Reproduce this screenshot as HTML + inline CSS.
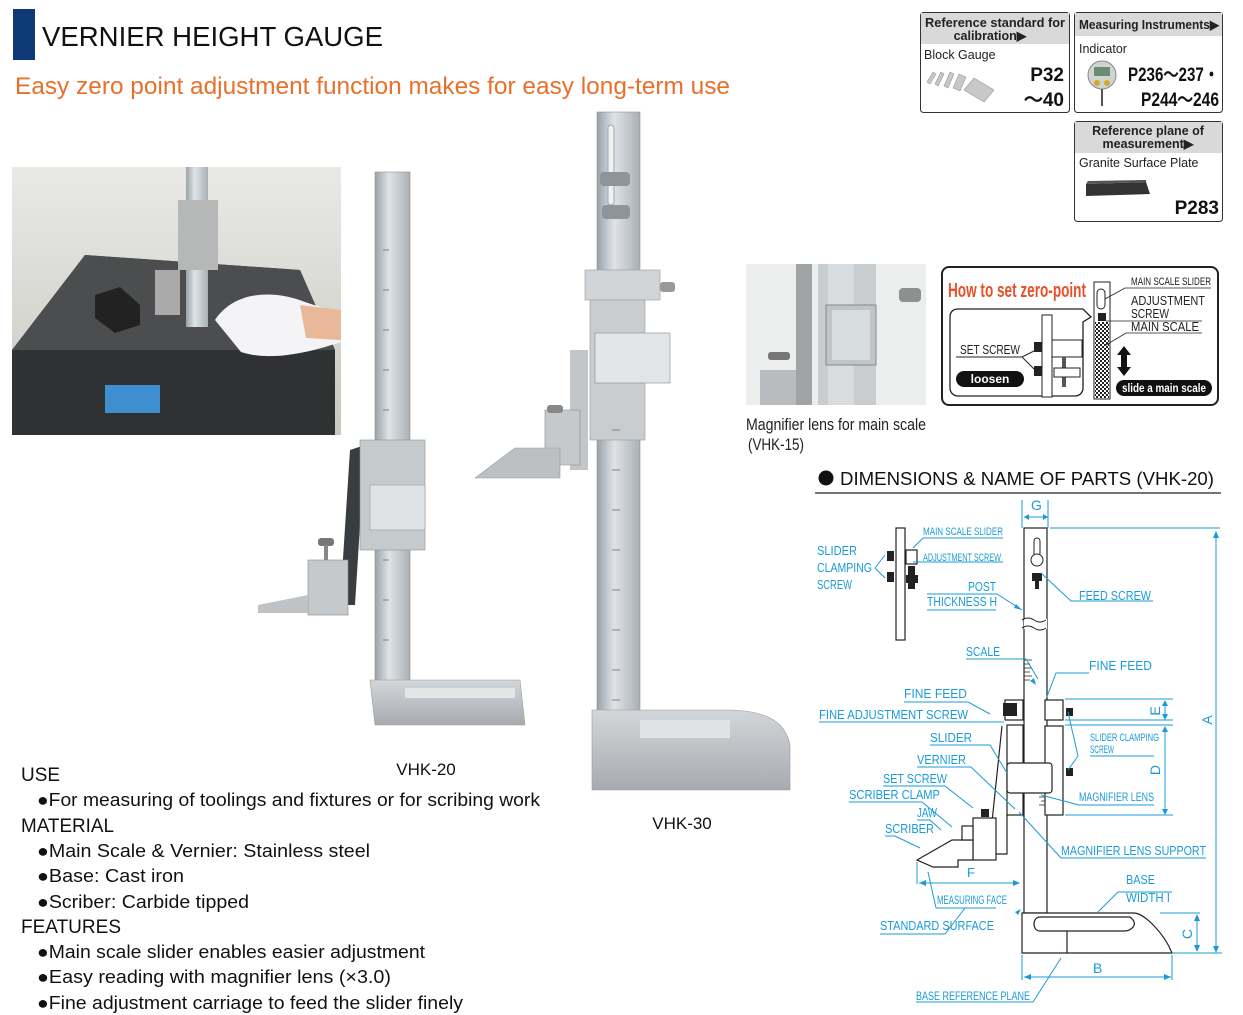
<!DOCTYPE html>
<html><head><meta charset="utf-8"><style>
html,body{margin:0;padding:0;background:#fff;width:1243px;height:1015px;overflow:hidden}
svg{display:block}
.b{fill:#1a9bd7;font-family:"Liberation Sans Narrow","Liberation Sans",sans-serif}
.ln{stroke:#1a9bd7;stroke-width:1;fill:none}
.t{font-family:"Liberation Sans",sans-serif;fill:#111}
</style></head><body>
<svg width="1243" height="1015" viewBox="0 0 1243 1015" xmlns="http://www.w3.org/2000/svg">
<defs>
<linearGradient id="metal" x1="0" x2="1"><stop offset="0" stop-color="#9aa2a8"/><stop offset=".4" stop-color="#dfe3e6"/><stop offset="1" stop-color="#a9b0b5"/></linearGradient>
<linearGradient id="base" x1="0" y1="0" x2="0" y2="1"><stop offset="0" stop-color="#d3d6d9"/><stop offset="1" stop-color="#a7abaf"/></linearGradient>
<linearGradient id="bg1" x1="0" y1="0" x2="0" y2="1"><stop offset="0" stop-color="#e9e9e6"/><stop offset="1" stop-color="#c9c8c2"/></linearGradient>
<pattern id="chk" width="4" height="4" patternUnits="userSpaceOnUse"><rect width="4" height="4" fill="#fff"/><rect width="2" height="2" fill="#222"/><rect x="2" y="2" width="2" height="2" fill="#222"/></pattern>
</defs>

<rect x="13" y="9" width="22" height="51" fill="#0f3a78"/>
<text x="42" y="46" class="t" font-size="28" textLength="341" lengthAdjust="spacingAndGlyphs">VERNIER HEIGHT GAUGE</text>
<text x="15" y="94" font-family="Liberation Sans,sans-serif" font-size="24" fill="#e8702a" textLength="715" lengthAdjust="spacingAndGlyphs">Easy zero point adjustment function makes for easy long-term use</text>

<g font-family="Liberation Sans,sans-serif">
<rect x="920.5" y="12.5" width="149" height="100" rx="3" fill="#fff" stroke="#333"/>
<path d="M921 13h148v31H921z" fill="#d9d9d9"/>
<text x="995" y="27" font-size="12.5" text-anchor="middle" font-weight="bold" fill="#222" textLength="140" lengthAdjust="spacingAndGlyphs">Reference standard for</text>
<text x="990" y="40" font-size="12.5" text-anchor="middle" font-weight="bold" fill="#222">calibration▶</text>
<text x="924" y="59" font-size="12.5" fill="#222">Block Gauge</text>
<text x="1064" y="81" font-size="19" font-weight="bold" text-anchor="end" fill="#111">P32</text>
<text x="1064" y="106" font-size="19" font-weight="bold" text-anchor="end" fill="#111">～40</text>
<g fill="#c8c8c8" stroke="#999" stroke-width=".6"><path d="M927 82l6-10 3 2-6 10z"/><path d="M935 84l6-12 3 2-6 12z"/><path d="M944 86l6-14 4 2-6 14z"/><path d="M953 88l6-14 7 3-6 14z"/><path d="M964 90l10-12 20 12-10 12z"/></g>

<rect x="1074.5" y="12.5" width="148" height="100" rx="3" fill="#fff" stroke="#333"/>
<path d="M1075 13h147v23h-147z" fill="#d9d9d9"/>
<text x="1079" y="29" font-size="12.5" font-weight="bold" fill="#222" textLength="140" lengthAdjust="spacingAndGlyphs">Measuring Instruments▶</text>
<text x="1079" y="53" font-size="12.5" fill="#222">Indicator</text>
<circle cx="1102" cy="75" r="14" fill="#cfd6d2" stroke="#888"/><rect x="1094" y="67" width="16" height="9" fill="#6e8a72"/><circle cx="1097" cy="83" r="3" fill="#d4a82a"/><circle cx="1107" cy="83" r="3" fill="#d4a82a"/><path d="M1102 89v17" stroke="#555" stroke-width="2"/>
<text x="1219" y="81" font-size="19" font-weight="bold" text-anchor="end" fill="#111" textLength="91" lengthAdjust="spacingAndGlyphs">P236～237・</text>
<text x="1219" y="106" font-size="19" font-weight="bold" text-anchor="end" fill="#111" textLength="78" lengthAdjust="spacingAndGlyphs">P244～246</text>

<rect x="1074.5" y="121.5" width="148" height="100" rx="3" fill="#fff" stroke="#333"/>
<path d="M1075 122h147v31h-147z" fill="#d9d9d9"/>
<text x="1148" y="135" font-size="12.5" font-weight="bold" text-anchor="middle" fill="#222">Reference plane of</text>
<text x="1148" y="148" font-size="12.5" font-weight="bold" text-anchor="middle" fill="#222">measurement▶</text>
<text x="1079" y="167" font-size="12.5" fill="#222">Granite Surface Plate</text>
<path d="M1086 184l60-2 4 12-64 2z" fill="#333"/><path d="M1086 184l60-2v-2l-58 1z" fill="#555"/>
<text x="1219" y="214" font-size="19" font-weight="bold" text-anchor="end" fill="#111">P283</text>
</g>

<!-- Photo left -->
<rect x="12" y="167" width="329" height="268" fill="url(#bg1)"/>
<path d="M12 350L85 255 300 270 335 350 335 435 12 435z" fill="#3d3f41"/>
<path d="M12 350L85 255 300 270 335 350z" fill="#4b4d4f"/>
<path d="M12 350h323v85H12z" fill="#2f3133"/>
<rect x="105" y="385" width="55" height="28" fill="#3f8fd0"/>
<path d="M95 295l25-8 20 18v20l-25 8-20-15z" fill="#222"/>
<rect x="186" y="167" width="22" height="160" fill="url(#metal)"/>
<rect x="178" y="200" width="40" height="70" fill="#b6b8b8"/>
<path d="M155 270h25v45h-25z" fill="#aaa"/>
<path d="M215 320c20-30 60-30 90-18l36 12v28c-30 10-70 20-100 10z" fill="#f4f4f6"/>
<path d="M300 305l41 5v30l-35-2z" fill="#e9b89a"/>

<!-- VHK-20 -->
<path d="M350 450l15-5-10 160-15 0z" fill="#3a3d40"/>
<rect x="375" y="172" width="35" height="530" fill="url(#metal)" stroke="#8a9196" stroke-width=".6"/>
<rect x="360" y="440" width="65" height="110" fill="#c5cacd" stroke="#8a9196" stroke-width=".6"/>
<rect x="370" y="485" width="55" height="45" fill="#dfe3e6" stroke="#999" stroke-width=".6"/>
<rect x="308" y="560" width="40" height="55" fill="#c6c9cb" stroke="#888" stroke-width=".6"/>
<rect x="318" y="538" width="16" height="8" rx="3" fill="#777"/><rect x="324" y="545" width="4" height="15" fill="#888"/>
<path d="M258 605l50-10v18h-50z" fill="#bfc3c6"/>
<path d="M370 680h150l5 45H375z" fill="url(#base)" stroke="#999" stroke-width=".6"/>
<path d="M405 688h110v10H405z" fill="#e3e5e7"/>
<g stroke="#666" stroke-width=".8">
<path d="M383 250h6M383 290h6M383 330h6M383 370h6M383 410h6M383 560h6M383 600h6M383 640h6"/></g>
<text x="426" y="775" class="t" font-size="17" text-anchor="middle">VHK-20</text>

<!-- VHK-30 -->
<rect x="597" y="112" width="43" height="615" fill="url(#metal)" stroke="#8a9196" stroke-width=".6"/>
<rect x="608" y="125" width="6" height="80" rx="3" fill="#eef0f2" stroke="#9aa"/>
<rect x="600" y="172" width="30" height="14" rx="4" fill="#8f9498"/>
<rect x="602" y="205" width="28" height="14" rx="4" fill="#8f9498"/>
<rect x="585" y="270" width="75" height="30" fill="#d1d5d8" stroke="#999" stroke-width=".6"/>
<rect x="660" y="282" width="15" height="10" rx="3" fill="#999"/>
<rect x="590" y="300" width="55" height="140" fill="#c9cdd0" stroke="#999" stroke-width=".6"/>
<rect x="595" y="333" width="75" height="50" fill="#e2e5e7" stroke="#888" stroke-width=".6"/>
<path d="M570 350h18v120h-18z" fill="#c2c6c9"/>
<path d="M545 410h35v55h-35z" fill="#c6c9cb" stroke="#888" stroke-width=".6"/>
<rect x="547" y="405" width="16" height="8" rx="3" fill="#888"/>
<path d="M475 478l40-30h45v30z" fill="#bcc0c3" stroke="#999" stroke-width=".6"/>
<g stroke="#666" stroke-width=".8">
<path d="M612 430h8M612 470h8M612 510h8M612 550h8M612 590h8M612 630h8M612 670h8M612 700h8"/></g>
<path d="M592 710h135c50 0 60 20 63 35v45H592z" fill="url(#base)" stroke="#999" stroke-width=".6"/>
<path d="M640 720h90v18h-90z" fill="#e0e2e4"/>
<text x="682" y="829" class="t" font-size="17" text-anchor="middle">VHK-30</text>

<!-- Magnifier photo -->
<rect x="746" y="264" width="180" height="141" fill="#eceded"/>
<rect x="818" y="264" width="58" height="141" fill="#c9cdd0"/>
<rect x="828" y="264" width="26" height="141" fill="#d8dcdf"/>
<rect x="826" y="305" width="50" height="60" fill="#bfc4c7" stroke="#888"/>
<rect x="832" y="310" width="38" height="50" fill="#d7dcdf"/>
<rect x="760" y="370" width="45" height="35" fill="#b9bcbe"/>
<rect x="768" y="352" width="22" height="8" rx="3" fill="#777"/>
<rect x="899" y="288" width="22" height="14" rx="4" fill="#8d8f90"/>
<rect x="796" y="264" width="16" height="141" fill="#9fa3a6"/>
<text x="746" y="430" font-family="Liberation Sans Narrow,Liberation Sans,sans-serif" font-size="17" fill="#222" textLength="180" lengthAdjust="spacingAndGlyphs">Magnifier lens for main scale</text>
<text x="748" y="450" font-family="Liberation Sans Narrow,Liberation Sans,sans-serif" font-size="17" fill="#222" textLength="56" lengthAdjust="spacingAndGlyphs">(VHK-15)</text>

<!-- Zero point box -->
<rect x="942" y="267" width="276" height="138" rx="7" fill="#fff" stroke="#222" stroke-width="2"/>
<text x="948" y="297" font-family="Liberation Sans Narrow,Liberation Sans,sans-serif" font-weight="bold" font-size="20" fill="#e8502a" textLength="138" lengthAdjust="spacingAndGlyphs">How to set zero-point</text>
<path d="M958 309h125l8 8-8 5v66c0 4-3 8-8 8H958c-5 0-8-4-8-8v-71c0-5 3-8 8-8z" fill="#fff" stroke="#222" stroke-width="1.3"/>
<rect x="1042" y="315" width="10" height="82" fill="#fff" stroke="#222"/>
<rect x="1052" y="340" width="30" height="17" fill="#fff" stroke="#222"/>
<rect x="1062" y="357" width="4" height="30" fill="#555"/>
<rect x="1054" y="368" width="26" height="9" fill="#fff" stroke="#222"/>
<rect x="1034" y="342" width="8" height="10" fill="#222"/><rect x="1034" y="366" width="8" height="10" fill="#222"/>
<text x="960" y="354" font-family="Liberation Sans Narrow,Liberation Sans,sans-serif" font-size="13" fill="#222" textLength="60" lengthAdjust="spacingAndGlyphs">SET SCREW</text>
<path d="M956 357h66l12-6M1022 357l12 12" stroke="#222" fill="none"/>
<rect x="956" y="371" width="68" height="16" rx="8" fill="#111"/>
<text x="990" y="383" font-family="Liberation Sans,sans-serif" font-weight="bold" font-size="12" fill="#fff" text-anchor="middle">loosen</text>
<rect x="1094" y="282" width="16" height="117" fill="#fff" stroke="#222"/>
<rect x="1095" y="322" width="14" height="76" fill="url(#chk)"/>
<rect x="1097" y="289" width="8" height="20" rx="4" fill="#fff" stroke="#222"/>
<rect x="1098" y="313" width="8" height="8" fill="#222"/>
<g font-family="Liberation Sans Narrow,Liberation Sans,sans-serif" fill="#222">
<text x="1131" y="285" font-size="11" textLength="80" lengthAdjust="spacingAndGlyphs">MAIN SCALE SLIDER</text>
<text x="1131" y="305" font-size="13" textLength="74" lengthAdjust="spacingAndGlyphs">ADJUSTMENT</text>
<text x="1131" y="318" font-size="13" textLength="38" lengthAdjust="spacingAndGlyphs">SCREW</text>
<text x="1131" y="331" font-size="13" textLength="68" lengthAdjust="spacingAndGlyphs">MAIN SCALE</text>
</g>
<path d="M1105 299l20-11h86M1106 321h96M1106 345l20-12h76" stroke="#222" fill="none" stroke-width=".8"/>
<path d="M1124 346l-7 9h4v12h-4l7 9 7-9h-4v-12h4z" fill="#111"/>
<rect x="1116" y="380" width="96" height="16" rx="8" fill="#111"/>
<text x="1164" y="392" font-family="Liberation Sans Narrow,Liberation Sans,sans-serif" font-weight="bold" font-size="12" fill="#fff" text-anchor="middle" textLength="84" lengthAdjust="spacingAndGlyphs">slide a main scale</text>

<!-- Dimension heading -->
<circle cx="826" cy="478" r="7.5" fill="#111"/>
<text x="840" y="485" font-family="Liberation Sans,sans-serif" font-size="18" fill="#111" textLength="374" lengthAdjust="spacingAndGlyphs">DIMENSIONS &amp; NAME OF PARTS (VHK-20)</text>
<path d="M815 493h406" stroke="#222" stroke-width="1.2"/>

<!-- Technical drawing -->
<g stroke="#222" stroke-width="1.2" fill="#fff">
<rect x="1024" y="528" width="23" height="385"/>
<rect x="896" y="528" width="9" height="112"/>
<rect x="906" y="550" width="11" height="14"/>
<rect x="1005" y="700" width="18" height="20"/>
<rect x="1045" y="700" width="18" height="20"/>
<rect x="1007" y="725" width="16" height="90"/>
<rect x="1045" y="726" width="18" height="89"/>
<rect x="1007" y="763" width="45" height="30" rx="3"/>
<path d="M1002 726l-10 96"/>
<path d="M1007 814v40h-12"/>
<rect x="973" y="818" width="23" height="42"/>
<path d="M917 860l35-20h21v20h-15v7h-25z"/>
<rect x="962" y="826" width="11" height="14"/>
<path d="M1022 913h112c10 0 30 20 38 40H1022z"/>
<path d="M1040 917h90c10 8 0 14-5 14h-85c-8 0-8-14 0-14z" fill="none"/>
<path d="M1067 931v22" fill="none"/>
</g>
<rect x="1024" y="619" width="23" height="10" fill="#fff"/>
<path d="M1022 620q6-4 12 0t12 0M1022 628q6-4 12 0t12 0" stroke="#222" fill="none"/>
<g fill="#222">
<rect x="887" y="551" width="7" height="10"/><rect x="887" y="572" width="7" height="10"/>
<rect x="908" y="566" width="7" height="9"/><rect x="906" y="575" width="12" height="8"/><rect x="908" y="583" width="7" height="6"/>
<rect x="1032" y="573" width="10" height="8"/><rect x="1035" y="581" width="4" height="8"/>
<rect x="1003" y="703" width="14" height="13"/>
<rect x="1066" y="708" width="7" height="8"/><rect x="1066" y="768" width="7" height="8"/>
<rect x="981" y="809" width="8" height="8"/>
</g>
<rect x="1034" y="538" width="6" height="18" rx="3" fill="#fff" stroke="#222"/>
<circle cx="1037" cy="560" r="6" fill="#fff" stroke="#222"/>
<g stroke="#222" stroke-width=".8"><path d="M1024 660h8M1024 664h6M1024 668h8M1024 672h6M1024 676h8M1024 680h6M1045 797h-6M1045 801h-4M1045 805h-6"/></g>

<g class="ln">
<path d="M1022 500v28M1048 500v28M1050 528h170"/>
<path d="M1024 517h24"/>
<path d="M1216 532v420M1172 953h50"/>
<path d="M1197 915v36M1160 913h40"/>
<path d="M1022 955v25M1172 955v25M1024 977h147"/>
<path d="M1165 701v18M1065 699h108M1065 720h108"/>
<path d="M1165 727v86M1065 725h108M1065 815h108"/>
<path d="M917 862v22M919 883h100"/>
<path d="M913 548l10-10h80M913 562h90"/>
<path d="M875 568l10-13M875 568l10 10"/>
<path d="M927 594h70l25 16M927 610h69"/>
<path d="M1041 573l30 28h82"/>
<path d="M966 659h60l12 20"/>
<path d="M1089 673h-33l-10 26"/>
<path d="M904 702h64l22 12M819 722h185"/>
<path d="M1068 712l10 44M1068 770l10-14M1090 756h64"/>
<path d="M930 745h60l17 28"/>
<path d="M917 767h54l44 42"/>
<path d="M883 786h62l28 22"/>
<path d="M849 802h73l30 25"/>
<path d="M917 820h13l11 10"/>
<path d="M885 836h10l25 12"/>
<path d="M1079 805l-38-10M1079 805h75"/>
<path d="M1061 858l-42-46M1061 858h145"/>
<path d="M936 908l-8-36M936 908h60"/>
<path d="M880 934h65l20-26"/>
<path d="M1098 912l20-20h54"/>
<path d="M916 1002h117l28-44"/>
</g>
<g fill="#1a9bd7">
<path d="M1024 517l5-3v6zM1048 517l-5-3v6z"/>
<path d="M1216 531l-3 7h6zM1216 953l-3-7h6z"/>
<path d="M1197 914l-3 7h6zM1197 952l-3-7h6z"/>
<path d="M1024 977l7-3v6zM1171 977l-7-3v6z"/>
<path d="M1165 700l-3 6h6zM1165 720l-3-6h6z"/>
<path d="M1165 726l-3 6h6zM1165 815l-3-6h6z"/>
<path d="M919 883l7-3v6zM1020 883l-7-3v6z"/>
<path d="M1022 610l-6-6-2 4z"/><path d="M1036 685l-2-7-4 3z"/>
<path d="M1021 909l-6 3 3 3z"/>
</g>

<g class="b">
<text x="923" y="535" font-size="11" textLength="80" lengthAdjust="spacingAndGlyphs">MAIN SCALE SLIDER</text>
<text x="923" y="561" font-size="11" textLength="78" lengthAdjust="spacingAndGlyphs">ADJUSTMENT SCREW</text>
<text x="817" y="555" font-size="13" textLength="40" lengthAdjust="spacingAndGlyphs">SLIDER</text>
<text x="817" y="572" font-size="13" textLength="55" lengthAdjust="spacingAndGlyphs">CLAMPING</text>
<text x="817" y="589" font-size="13" textLength="35" lengthAdjust="spacingAndGlyphs">SCREW</text>
<text x="968" y="591" font-size="13" textLength="28" lengthAdjust="spacingAndGlyphs">POST</text>
<text x="927" y="606" font-size="13" textLength="70" lengthAdjust="spacingAndGlyphs">THICKNESS H</text>
<text x="1079" y="600" font-size="13" textLength="72" lengthAdjust="spacingAndGlyphs">FEED SCREW</text>
<text x="966" y="656" font-size="13" textLength="34" lengthAdjust="spacingAndGlyphs">SCALE</text>
<text x="1089" y="670" font-size="13" textLength="63" lengthAdjust="spacingAndGlyphs">FINE FEED</text>
<text x="904" y="698" font-size="13" textLength="63" lengthAdjust="spacingAndGlyphs">FINE FEED</text>
<text x="819" y="719" font-size="13" textLength="149" lengthAdjust="spacingAndGlyphs">FINE ADJUSTMENT SCREW</text>
<text x="930" y="742" font-size="13" textLength="42" lengthAdjust="spacingAndGlyphs">SLIDER</text>
<text x="917" y="764" font-size="13" textLength="49" lengthAdjust="spacingAndGlyphs">VERNIER</text>
<text x="883" y="783" font-size="13" textLength="64" lengthAdjust="spacingAndGlyphs">SET SCREW</text>
<text x="849" y="799" font-size="13" textLength="91" lengthAdjust="spacingAndGlyphs">SCRIBER CLAMP</text>
<text x="917" y="817" font-size="13" textLength="20" lengthAdjust="spacingAndGlyphs">JAW</text>
<text x="885" y="833" font-size="13" textLength="49" lengthAdjust="spacingAndGlyphs">SCRIBER</text>
<text x="1090" y="741" font-size="11" textLength="69" lengthAdjust="spacingAndGlyphs">SLIDER CLAMPING</text>
<text x="1090" y="753" font-size="11" textLength="24" lengthAdjust="spacingAndGlyphs">SCREW</text>
<text x="1079" y="801" font-size="12" textLength="75" lengthAdjust="spacingAndGlyphs">MAGNIFIER LENS</text>
<text x="1061" y="855" font-size="13" textLength="145" lengthAdjust="spacingAndGlyphs">MAGNIFIER LENS SUPPORT</text>
<text x="967" y="877" font-size="13">F</text>
<text x="937" y="904" font-size="12" textLength="70" lengthAdjust="spacingAndGlyphs">MEASURING FACE</text>
<text x="880" y="930" font-size="13" textLength="114" lengthAdjust="spacingAndGlyphs">STANDARD SURFACE</text>
<text x="1126" y="884" font-size="13" textLength="29" lengthAdjust="spacingAndGlyphs">BASE</text>
<text x="1126" y="902" font-size="13" textLength="44" lengthAdjust="spacingAndGlyphs">WIDTH I</text>
<text x="1093" y="973" font-size="14">B</text>
<text x="1031" y="510" font-size="14">G</text>
<text x="916" y="1000" font-size="12" textLength="114" lengthAdjust="spacingAndGlyphs">BASE REFERENCE PLANE</text>
<text transform="translate(1192,934) rotate(-90)" font-size="14" text-anchor="middle">C</text>
<text transform="translate(1212,720) rotate(-90)" font-size="14" text-anchor="middle">A</text>
<text transform="translate(1160,770) rotate(-90)" font-size="14" text-anchor="middle">D</text>
<text transform="translate(1160,711) rotate(-90)" font-size="14" text-anchor="middle">E</text>
</g>

<g font-family="Liberation Sans,sans-serif" fill="#111">
<text x="21" y="781" font-size="19" textLength="39" lengthAdjust="spacingAndGlyphs">USE</text>
<text x="37" y="806" font-size="18" textLength="503" lengthAdjust="spacingAndGlyphs">●For measuring of toolings and fixtures or for scribing work</text>
<text x="21" y="832" font-size="19" textLength="93" lengthAdjust="spacingAndGlyphs">MATERIAL</text>
<text x="37" y="857" font-size="18" textLength="333" lengthAdjust="spacingAndGlyphs">●Main Scale &amp; Vernier: Stainless steel</text>
<text x="37" y="882" font-size="18" textLength="147" lengthAdjust="spacingAndGlyphs">●Base: Cast iron</text>
<text x="37" y="908" font-size="18" textLength="212" lengthAdjust="spacingAndGlyphs">●Scriber: Carbide tipped</text>
<text x="21" y="933" font-size="19" textLength="100" lengthAdjust="spacingAndGlyphs">FEATURES</text>
<text x="37" y="958" font-size="18" textLength="388" lengthAdjust="spacingAndGlyphs">●Main scale slider enables easier adjustment</text>
<text x="37" y="983" font-size="18" textLength="354" lengthAdjust="spacingAndGlyphs">●Easy reading with magnifier lens (×3.0)</text>
<text x="37" y="1009" font-size="18" textLength="426" lengthAdjust="spacingAndGlyphs">●Fine adjustment carriage to feed the slider finely</text>
</g>
</svg>
</body></html>
